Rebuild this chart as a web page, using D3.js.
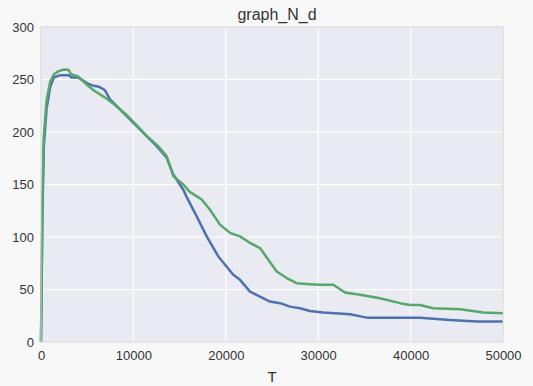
<!DOCTYPE html>
<html>
<head>
<meta charset="utf-8">
<script src="https://cdn.jsdelivr.net/npm/d3@7"></script>
<style>
  html, body { margin: 0; padding: 0; background: #f8f8f8; }
  #chart { width: 533px; height: 386px; }
  text { font-family: "Liberation Sans", Arial, sans-serif; fill: #333; }
</style>
</head>
<body>
<div id="chart"></div>
<script>
const title = 'graph_N_d';
const xLabel = 'T';
const xTicks = [0, 10000, 20000, 30000, 40000, 50000];
const yTicks = [0, 50, 100, 150, 200, 250, 300];

// blue series [T, value]
const blueSeries = [
  [0, 0], [150, 120], [300, 185], [600, 222], [1000, 243], [1400, 252], [2000, 254],
  [3000, 254], [3300, 252], [4000, 252], [5100, 246], [5700, 244], [6300, 243],
  [6900, 240], [7470, 231], [8550, 221.6], [9630, 212], [10360, 205.7], [11440, 196],
  [12520, 186.6], [13600, 175.5], [14320, 159.5], [15400, 145], [15770, 138],
  [16850, 119.7], [17930, 100.6], [19190, 81.5], [20810, 64], [21540, 59.2],
  [22620, 48], [23700, 43.3], [24780, 38.5], [25870, 37], [26950, 33.7], [28030, 32.2],
  [29110, 29.5], [30550, 28], [33440, 26.4], [35250, 23.2], [39940, 23.2], [41020, 23],
  [44270, 21], [47160, 19.6], [50000, 19.6]
];

// green series [T, value]
const greenSeries = [
  [0, 0], [150, 130], [300, 195], [600, 230], [1000, 248], [1400, 255], [1900, 258],
  [2500, 259.5], [3000, 259], [3250, 255], [4000, 253], [5100, 244], [5800, 239],
  [6900, 233], [7980, 226], [9420, 215], [10500, 205], [11440, 196], [12520, 188],
  [13600, 177], [14320, 158], [15400, 150], [16100, 143], [17390, 135.7], [18290, 126],
  [19370, 111.8], [20460, 103.9], [21540, 100.6], [22620, 94.3], [23700, 89.5],
  [25510, 67.2], [26590, 60.9], [27670, 56], [29110, 55.1], [30200, 54.5], [31640, 54.5],
  [32900, 47.1], [34530, 45], [36690, 41.7], [38850, 37], [39940, 35.3], [41020, 35.3],
  [42460, 32.2], [45390, 31.2], [47870, 28], [50000, 27.4]
];

const W = 533, H = 386;
const m = { t: 27, r: 30, b: 44, l: 41 };
const innerW = W - m.l - m.r;
const innerH = H - m.t - m.b;

const svg = d3.select('#chart').append('svg').attr('width', W).attr('height', H);
const g = svg.append('g').attr('transform', `translate(${m.l},${m.t})`);

const x = d3.scaleLinear().domain([0, 50000]).range([0, innerW]);
const y = d3.scaleLinear().domain([0, 300]).range([innerH, 0]);

g.append('rect')
  .attr('width', innerW).attr('height', innerH)
  .attr('fill', '#eaeaf2');

// grid
g.append('g').selectAll('line').data(xTicks).enter().append('line')
  .attr('x1', d => x(d)).attr('x2', d => x(d))
  .attr('y1', 0).attr('y2', innerH)
  .attr('stroke', '#fff').attr('stroke-width', 1.2);
g.append('g').selectAll('line').data(yTicks).enter().append('line')
  .attr('x1', 0).attr('x2', innerW)
  .attr('y1', d => y(d)).attr('y2', d => y(d))
  .attr('stroke', '#fff').attr('stroke-width', 1.2);

// lines
const line = d3.line().x(d => x(d[0])).y(d => y(d[1]));
g.append('path').datum(blueSeries)
  .attr('fill', 'none').attr('stroke', '#4c72b0').attr('stroke-width', 2.5)
  .attr('stroke-linejoin', 'round').attr('d', line);
g.append('path').datum(greenSeries)
  .attr('fill', 'none').attr('stroke', '#55a868').attr('stroke-width', 2.5)
  .attr('stroke-linejoin', 'round').attr('d', line);

// frame
g.append('rect')
  .attr('x', 0).attr('y', 0)
  .attr('width', innerW).attr('height', innerH)
  .attr('fill', 'none').attr('stroke', '#cfcfd6').attr('stroke-width', 1);

// axes
const xAxis = g.append('g').attr('transform', `translate(0,${innerH})`)
  .call(d3.axisBottom(x).tickValues(xTicks).tickFormat(d3.format('d')).tickSize(0).tickPadding(9));
const yAxis = g.append('g')
  .call(d3.axisLeft(y).tickValues(yTicks).tickSize(0).tickPadding(7));
[xAxis, yAxis].forEach(a => {
  a.select('.domain').remove();
  a.selectAll('text').attr('font-size', 13).attr('fill', '#333')
    .attr('font-family', '"Liberation Sans", Arial, sans-serif');
});

svg.append('text')
  .attr('x', 277).attr('y', 20)
  .attr('text-anchor', 'middle').attr('font-size', 16)
  .text(title);

svg.append('text')
  .attr('x', m.l + innerW / 2).attr('y', 382)
  .attr('text-anchor', 'middle').attr('font-size', 15)
  .text(xLabel);
</script>
</body>
</html>
